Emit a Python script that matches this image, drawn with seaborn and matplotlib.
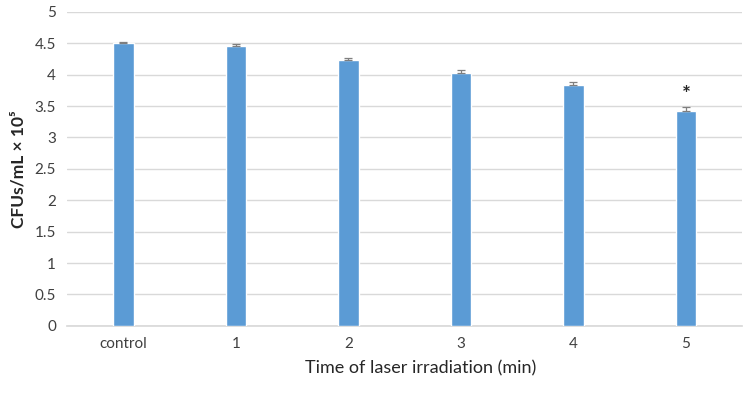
import numpy as np
import pandas as pd
import matplotlib
matplotlib.use("Agg")
import matplotlib.pyplot as plt
import seaborn as sns

# Data
groups = ['control', '1', '2', '3', '4', '5']
cfu = [4.50, 4.45, 4.23, 4.03, 3.83, 3.42]
cfu_err = [0.02, 0.04, 0.04, 0.05, 0.05, 0.06]
marks = ['', '', '', '', '', '*']
y_ticks = [0, 0.5, 1, 1.5, 2, 2.5, 3, 3.5, 4, 4.5, 5]
y_tick_labels = ['0', '0.5', '1', '1.5', '2', '2.5', '3', '3.5', '4', '4.5', '5']


def main():
    df = pd.DataFrame({'group': groups, 'cfu': cfu, 'err': cfu_err})

    sns.set_theme(style="white")
    plt.rcParams['font.family'] = ['Lato', 'DejaVu Sans']

    fig = plt.figure(figsize=(7.55, 3.95), dpi=100)
    ax = fig.add_axes([0.089, 0.175, 0.894, 0.795])

    sns.barplot(data=df, x='group', y='cfu', color='#5B9BD5', saturation=1,
                width=0.18, errorbar=None, ax=ax, zorder=3)

    # Error bars (upper only)
    x = np.arange(len(groups))
    ax.errorbar(x, df['cfu'], yerr=[np.zeros(len(groups)), df['err']],
                fmt='none', ecolor='#7F7F7F', elinewidth=0.9, capsize=3,
                capthick=0.9, zorder=4)

    # significance marks
    for xi, v, e, m in zip(x, cfu, cfu_err, marks):
        if m:
            ax.text(xi, v + e + 0.03, m, ha='center', va='bottom',
                    fontsize=15, fontweight='bold', color='#262626')

    ax.set_ylim(0, 5)
    ax.set_xlim(-0.5, len(groups) - 0.5)
    ax.set_yticks(y_ticks)
    ax.set_yticklabels(y_tick_labels)
    ax.yaxis.grid(True, color='#D9D9D9', linewidth=1)
    ax.set_axisbelow(True)
    for s in ['top', 'right', 'left']:
        ax.spines[s].set_visible(False)
    ax.spines['bottom'].set_color('#D9D9D9')
    ax.tick_params(axis='both', length=0, labelsize=11, colors='#404040', pad=8)

    ax.set_xlabel('Time of laser irradiation (min)', fontsize=13, color='#262626')
    ax.xaxis.set_label_coords(0.524, -0.11)
    ax.set_ylabel('CFUs/mL × 10⁵', fontsize=12.5, fontweight='bold', color='#262626', labelpad=6)

    fig.savefig('out.png', dpi=100)
    plt.close(fig)


if __name__ == "__main__":
    main()
